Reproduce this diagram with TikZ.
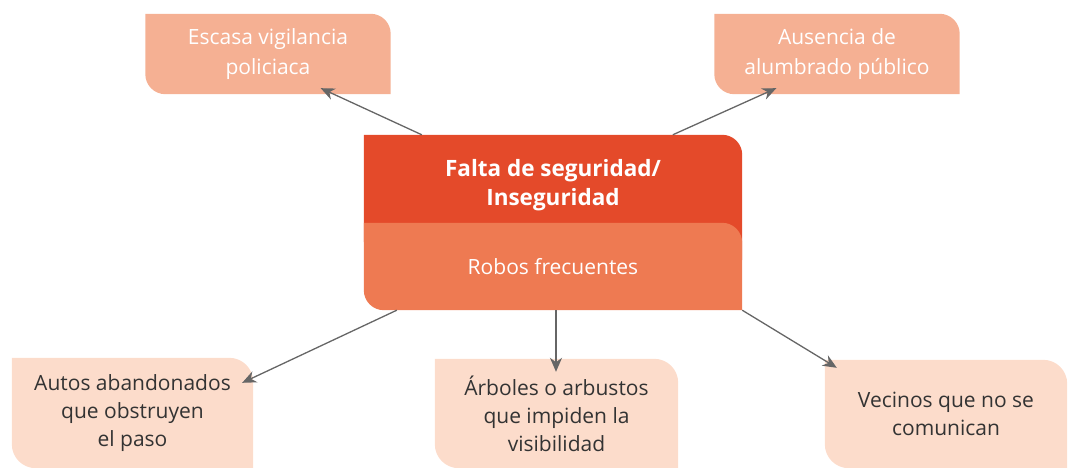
\documentclass[tikz,border=0pt]{standalone}
\usepackage{fontspec}
\setmainfont{Open Sans}
\usetikzlibrary{arrows.meta}
\pgfdeclarelayer{background}
\pgfsetlayers{background,main}
\definecolor{topc}{HTML}{F5B093}
\definecolor{darkc}{HTML}{E44A2A}
\definecolor{lightc}{HTML}{EE7A52}
\definecolor{botc}{HTML}{FCDCCB}
\definecolor{arrc}{HTML}{666666}
\definecolor{txtc}{HTML}{333333}
\newcommand{\leafbox}[4]{% name, color, radius, extra depth
  \fill[#2] (#1.north west) -- ([xshift=-#3]#1.north east)
    arc[start angle=90,end angle=0,radius=#3]
    -- ([yshift=-#4]#1.south east) -- ([xshift=#3,yshift=-#4]#1.south west)
    arc[start angle=270,end angle=180,radius=#3] -- cycle;}
\begin{document}
\begin{tikzpicture}[x=1pt,y=1pt,
  box/.style={rectangle,inner sep=0pt,align=center,font=\fontsize{21}{28}\selectfont},
  topbox/.style={box,text=white,minimum width=245pt,minimum height=80pt,font=\fontsize{21}{30}\selectfont},
  botbox/.style={box,text=txtc,minimum width=242pt,minimum height=109pt},
  arr/.style={draw=arrc,line width=1.3pt,-{Stealth[length=14pt,width=12pt]}}]
\useasboundingbox (0,0) rectangle (1072,468);
\node[topbox] (tl) at (268,414) {Escasa vigilancia\\policiaca};
\node[topbox] (tr) at (837,414) {Ausencia de\\alumbrado público};
\node[box,text=white,minimum width=378pt,minimum height=100pt,font=\fontsize{22.5}{29}\selectfont\bfseries] (dark) at (553,283) {Falta de seguridad/\\Inseguridad};
\node[box,text=white,minimum width=378pt,minimum height=87pt] (light) at (553,201.5) {Robos frecuentes};
\node[botbox,minimum width=241pt,minimum height=110pt] (bl) at (132.5,55) {Autos abandonados\\que obstruyen\\el paso};
\node[botbox,minimum width=243pt] (bm) at (556.5,54.5) {Árboles o arbustos\\que impiden la\\visibilidad};
\node[botbox,minimum height=108pt] (br) at (946,54) {Vecinos que no se\\comunican};
\begin{pgfonlayer}{background}
  \leafbox{tl}{topc}{20pt}{0pt}
  \leafbox{tr}{topc}{20pt}{0pt}
  \leafbox{dark}{darkc}{20pt}{25pt}
  \leafbox{light}{lightc}{20pt}{0pt}
  \leafbox{bl}{botc}{24pt}{0pt}
  \leafbox{bm}{botc}{24pt}{0pt}
  \leafbox{br}{botc}{24pt}{0pt}
\end{pgfonlayer}
\draw[arr] ([xshift=58pt]dark.north west) -- ([xshift=-70pt,yshift=6pt]tl.south east);
\draw[arr] ([xshift=309pt]dark.north west) -- ([xshift=62pt,yshift=6pt]tr.south west);
\draw[arr] ([xshift=33pt]light.south west) -- ([xshift=-11pt,yshift=-25pt]bl.north east);
\draw[arr] ([xshift=3pt]light.south) -- ([xshift=-0.5pt,yshift=-13pt]bm.north);
\draw[arr] (light.south east) -- ([xshift=12pt,yshift=-8pt]br.north west);
\end{tikzpicture}
\end{document}
